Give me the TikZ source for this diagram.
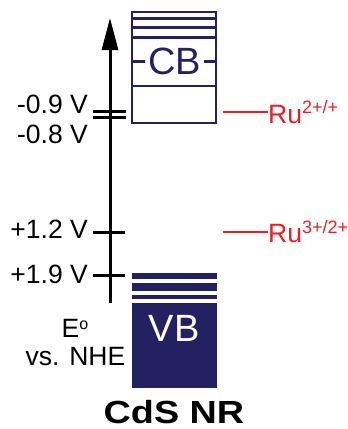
\documentclass[tikz,border=0pt]{standalone}
\usepackage{fontspec}
\setmainfont{Liberation Sans}
\usetikzlibrary{arrows.meta}
\definecolor{bandblue}{RGB}{36,33,99}
\definecolor{rured}{RGB}{237,28,36}
\newcommand{\supr}[1]{\raisebox{9.5pt}{\fontsize{18}{21}\selectfont #1}}
\begin{document}
\begin{tikzpicture}[x=1pt, y=-1pt,
  lab/.style={font=\fontsize{26.5}{31}\selectfont, inner sep=0pt},
  bandlab/.style={font=\fontsize{38}{44}\selectfont, inner xsep=3pt, inner ysep=1pt},
  vtick/.style={line width=3pt},
  bandline/.style={bandblue, line width=2.6pt},
  redox/.style={rured, line width=1.9pt}]
  \useasboundingbox (0,0) rectangle (348,429);

  % energy axis
  \coordinate (ax0) at (110,303);
  \coordinate (ax1) at (110,18);
  \draw[line width=3pt, -{Triangle[length=32pt, width=16pt]}] (ax0) -- (ax1);
  \draw[vtick] (93,111.5) -- (126,111.5);
  \draw[vtick] (93,117.5) -- (126,117.5);
  \draw[vtick] (93,232) -- (125,232);
  \draw[vtick] (93,275) -- (125,275);

  % potentials
  \node[lab, anchor=base east] (m09) at (88,113) {-0.9 V};
  \node[lab, anchor=base east] (m08) at (88,143) {-0.8 V};
  \node[lab, anchor=base east] (p12) at (88,238) {+1.2 V};
  \node[lab, anchor=base east] (p19) at (88,283) {+1.9 V};
  \node[lab, anchor=base] (eo) at (75,337) {E\raisebox{7.5pt}{\fontsize{16}{19}\selectfont o}};
  \node[lab, anchor=base] (nhe) at (75.5,365) {vs. NHE};

  % conduction band
  \draw[bandline] (132,12) rectangle (216,123);
  \foreach \yy in {18.5,27.5,37.5,86}
    \draw[bandline] (132,\yy) -- (216,\yy);
  \draw[bandline] (132,61.5) -- (216,61.5);
  \node[bandlab, text=bandblue, fill=white] (cb) at (174.5,61) {CB};

  % valence band
  \fill[bandblue] (132,273) rectangle (217,279);
  \fill[bandblue] (132,283) rectangle (217,291);
  \fill[bandblue] (132,295) rectangle (217,299);
  \fill[bandblue] (132,303) rectangle (217,388);
  \node[bandlab, text=white] (vb) at (174,328.5) {VB};

  % Ru couples
  \node[lab, text=rured, anchor=base west] (ru2) at (268,123) {Ru\supr{2+/+}};
  \node[lab, text=rured, anchor=base west] (ru3) at (268,242.5) {Ru\supr{3+/2+}};
  \coordinate (r2) at (223,112);
  \coordinate (r3) at (223,232);
  \draw[redox] (r2) -- (r2 -| ru2.west);
  \draw[redox] (r3) -- (r3 -| ru3.west);

  \node[anchor=base, inner sep=0pt, font=\fontsize{32}{38}\selectfont\bfseries] (cds) at (174,423) {\scalebox{1.18}[1]{CdS NR}};
\end{tikzpicture}
\end{document}
